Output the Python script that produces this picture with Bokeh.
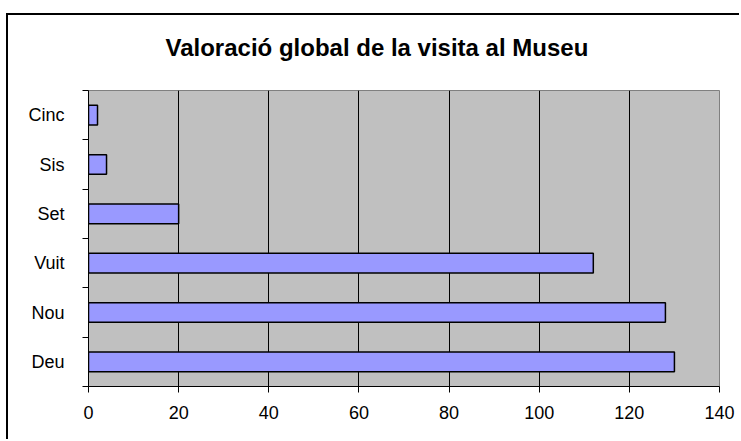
from bokeh.plotting import figure
from bokeh.models import FixedTicker, Range1d
from bokeh.embed import file_html
from bokeh.resources import INLINE

categories = ["Deu", "Nou", "Vuit", "Set", "Sis", "Cinc"]
values = [130, 128, 112, 20, 4, 2]
x_ticks = [0, 20, 40, 60, 80, 100, 120, 140]
title_text = "Valoració global de la visita al Museu"

ypos = [i + 0.5 for i in range(len(categories))]

p = figure(width=739, height=438, output_backend="svg", toolbar_location=None,
           x_range=Range1d(0, 140), y_range=Range1d(0, len(categories)),
           min_border_left=88, min_border_right=20, min_border_top=76, min_border_bottom=53)
p.margin = (1, 0, 0, 0)
p.styles = {"background": "linear-gradient(#000,#000) 6px 12px / 2px 100% no-repeat, "
                          "linear-gradient(#000,#000) 6px 12px / 100% 2px no-repeat, #fff"}

p.title.text = title_text
p.title.text_font = "Liberation Sans"
p.title.text_font_size = "24px"
p.title.text_font_style = "bold"
p.title.text_color = "black"
p.title.align = "left"
p.title.offset = 77
p.title.standoff = 60

p.background_fill_color = "#C0C0C0"
p.border_fill_color = None
p.outline_line_color = "#808080"
p.outline_line_width = 1

p.hbar(y=ypos, right=values, left=0, height=0.4, fill_color="#9999FF",
       line_color="black", line_width=1.5)

# x axis
p.xaxis.ticker = FixedTicker(ticks=x_ticks)
p.xaxis.axis_line_color = "black"
p.xaxis.major_tick_out = 6
p.xaxis.major_tick_in = 0
p.xaxis.minor_tick_line_color = None
p.xaxis.major_label_text_font = "Liberation Sans"
p.xaxis.major_label_text_font_size = "18px"
p.xaxis.major_label_text_color = "black"
p.xaxis.major_label_standoff = 13

# y axis: labels at centers, ticks at boundaries
p.yaxis.ticker = FixedTicker(ticks=ypos, minor_ticks=list(range(len(categories) + 1)))
p.yaxis.major_label_overrides = {y: c for y, c in zip(ypos, categories)}
p.yaxis.major_tick_line_color = None
p.yaxis.major_tick_out = 0
p.yaxis.major_tick_in = 0
p.yaxis.minor_tick_out = 6
p.yaxis.minor_tick_in = 0
p.yaxis.minor_tick_line_color = "black"
p.yaxis.axis_line_color = "black"
p.yaxis.major_label_text_font = "Liberation Sans"
p.yaxis.major_label_text_font_size = "18px"
p.yaxis.major_label_text_color = "black"
p.yaxis.major_label_standoff = 18

p.xgrid.ticker = FixedTicker(ticks=x_ticks)
p.xgrid.grid_line_color = "black"
p.xgrid.grid_line_width = 1
p.ygrid.grid_line_color = None

open("out.html", "w").write(file_html(p, INLINE))
